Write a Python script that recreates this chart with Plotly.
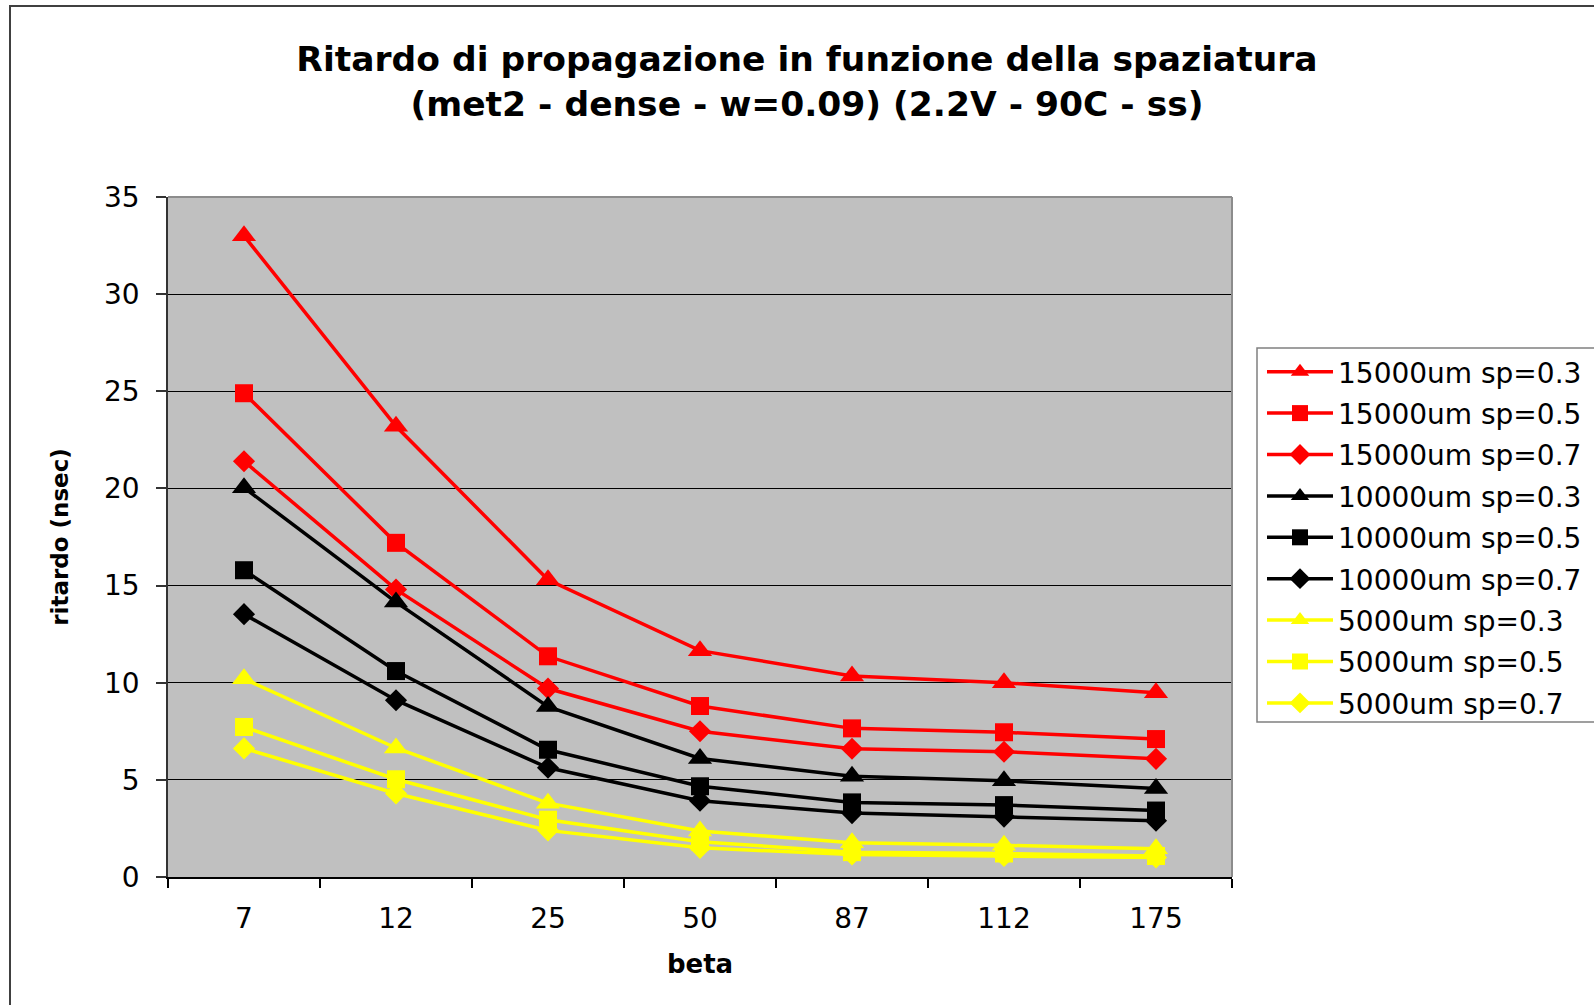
import plotly.graph_objects as go

# beta values (categorical x axis)
beta = ["7", "12", "25", "50", "87", "112", "175"]

# propagation delay (nsec) per wire length / spacing
d15000_sp03 = [33.0, 23.2, 15.3, 11.65, 10.35, 10.0, 9.48]
d15000_sp05 = [24.9, 17.2, 11.36, 8.8, 7.65, 7.45, 7.1]
d15000_sp07 = [21.4, 14.8, 9.7, 7.5, 6.6, 6.45, 6.08]
d10000_sp03 = [20.04, 14.15, 8.77, 6.1, 5.18, 4.95, 4.55]
d10000_sp05 = [15.79, 10.6, 6.55, 4.67, 3.84, 3.7, 3.42]
d10000_sp07 = [13.53, 9.1, 5.62, 3.93, 3.29, 3.11, 2.9]
d5000_sp03 = [10.2, 6.64, 3.8, 2.37, 1.76, 1.63, 1.45]
d5000_sp05 = [7.72, 5.03, 2.95, 1.82, 1.28, 1.21, 1.08]
d5000_sp07 = [6.62, 4.3, 2.4, 1.5, 1.16, 1.08, 1.0]

series = [
    ("15000um sp=0.3", d15000_sp03, "#FF0000", "triangle-up"),
    ("15000um sp=0.5", d15000_sp05, "#FF0000", "square"),
    ("15000um sp=0.7", d15000_sp07, "#FF0000", "diamond"),
    ("10000um sp=0.3", d10000_sp03, "#000000", "triangle-up"),
    ("10000um sp=0.5", d10000_sp05, "#000000", "square"),
    ("10000um sp=0.7", d10000_sp07, "#000000", "diamond"),
    ("5000um sp=0.3", d5000_sp03, "#FFFF00", "triangle-up"),
    ("5000um sp=0.5", d5000_sp05, "#FFFF00", "square"),
    ("5000um sp=0.7", d5000_sp07, "#FFFF00", "diamond"),
]
marker_size = {"triangle-up": 21, "square": 18, "diamond": 17}

FONT = "DejaVu Sans"

fig = go.Figure()
for i, (name, vals, color, sym) in enumerate(series):
    fig.add_trace(go.Scatter(
        x=beta, y=vals, name=name, mode="lines+markers",
        legendgroup=f"g{i}",
        line=dict(color=color, width=3.5),
        marker=dict(symbol=sym, size=marker_size[sym], color=color,
                    line=dict(width=0)),
    ))

# plot area in pixels: left 168, right 1232, top 197, bottom 877
L, R, T, B = 168, 1232, 197, 877
W, H = 1594, 1005
def px(xp):
    return (xp - L) / (R - L)
def py(yp):
    return (B - yp) / (B - T)

fig.update_layout(
    width=W, height=H,
    margin=dict(l=L, r=W - R, t=T, b=H - B, autoexpand=False),
    paper_bgcolor="white",
    plot_bgcolor="#C0C0C0",
    font=dict(family=FONT, color="black"),
    title=dict(
        text="<b>Ritardo di propagazione in funzione della spaziatura<br>"
             "(met2 - dense - w=0.09) (2.2V - 90C - ss)</b>",
        font=dict(family=FONT, size=34.5, color="black"),
        x=807 / W, xanchor="center", xref="container",
        y=1 - 71 / H, yanchor="middle", yref="container",
    ),
    xaxis=dict(
        type="category",
        tickson="boundaries",
        ticks="outside", ticklen=9, tickwidth=1.5, tickcolor="black",
        showline=True, linecolor="black", linewidth=1.5,
        showgrid=False,
        tickfont=dict(family=FONT, size=28, color="black"),
        ticklabelstandoff=16,
        title=dict(text="<b>beta</b>", font=dict(family=FONT, size=26, color="black"),
                   standoff=20),
        range=[-0.5, 6.5],
    ),
    yaxis=dict(
        range=[0, 35],
        tickvals=[0, 5, 10, 15, 20, 25, 30, 35],
        ticks="outside", ticklen=10, tickwidth=1.5, tickcolor="#333333",
        showline=True, linecolor="#333333", linewidth=1.5,
        showgrid=True, gridcolor="black", gridwidth=1,
        zeroline=False,
        tickfont=dict(family=FONT, size=28, color="black"),
        ticklabelstandoff=11,
        title=dict(text="<b>ritardo (nsec)</b>", font=dict(family=FONT, size=23, color="black"),
                   standoff=29),
    ),
    legend=dict(
        x=px(1262), y=py(347), xanchor="left", yanchor="top",
        bgcolor="rgba(0,0,0,0)", borderwidth=0,
        font=dict(family=FONT, size=28, color="black"),
        itemwidth=66,
        tracegroupgap=2,
    ),
    showlegend=True,
    shapes=[
        # plot area border on top and right
        dict(type="line", xref="paper", yref="paper", x0=0, x1=1, y0=1, y1=1,
             line=dict(color="#8C8C8C", width=2), layer="above"),
        dict(type="line", xref="paper", yref="paper", x0=1, x1=1, y0=0, y1=1,
             line=dict(color="#8C8C8C", width=2), layer="above"),
        # chart border
        dict(type="rect", xref="paper", yref="paper",
             x0=px(10), x1=px(1620), y0=py(1030), y1=py(6),
             line=dict(color="#404040", width=2), fillcolor="rgba(0,0,0,0)",
             layer="below"),
        # legend box, running off the right edge
        dict(type="rect", xref="paper", yref="paper",
             x0=px(1257), x1=px(1640), y0=py(722), y1=py(348),
             line=dict(color="#808080", width=1.5), fillcolor="white",
             layer="above"),
    ],
)

fig.write_html("out.html")
